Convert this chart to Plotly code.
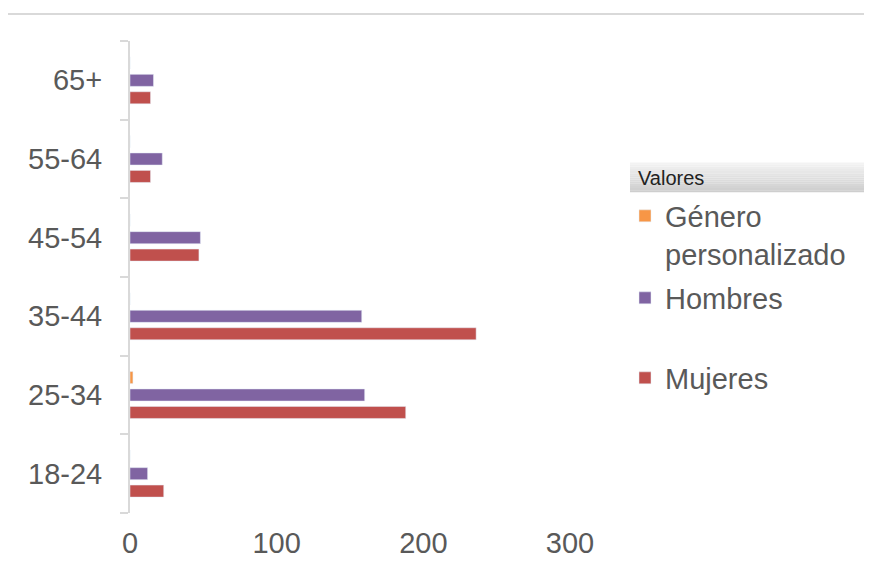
import plotly.graph_objects as go

categories = ["18-24", "25-34", "35-44", "45-54", "55-64", "65+"]
mujeres = [23, 188, 236, 47, 14, 14]
hombres = [12, 160, 158, 48, 22, 16]
genero = [0, 2, 0, 0, 0, 0]
x_ticks = [0, 100, 200, 300]

FONT = "Liberation Sans, Arial, sans-serif"
GREY = "#595959"
FS = 29

# page body adds an 8px offset; work in figure coordinates = reference - 8
OFF = 8
W, H = 872 - OFF, 571 - OFF
L, R, T, B = 130 - OFF, W - (570 - OFF), 41 - OFF, H - (515 - OFF)
pw, ph = W - L - R, H - T - B

def px_x(x):
    return (x - OFF - L) / pw

def px_y(y):
    return (H - B - (y - OFF)) / ph

def cx(x):
    return (x - OFF) / W

def cy(y):
    return (H - (y - OFF)) / H

fig = go.Figure()
fig.add_trace(go.Bar(y=categories, x=mujeres, orientation="h", name="Mujeres",
                     marker=dict(color="#C0504D"), legend="legend3", showlegend=True))
fig.add_trace(go.Bar(y=categories, x=hombres, orientation="h", name="Hombres",
                     marker=dict(color="#8064A2"), legend="legend2", showlegend=True))
fig.add_trace(go.Bar(y=categories, x=genero, orientation="h", name="Género<br>personalizado",
                     marker=dict(color="#F79646"), legend="legend", showlegend=True))

shapes = [
    dict(type="line", xref="paper", yref="paper", x0=px_x(5), x1=px_x(880),
         y0=px_y(14), y1=px_y(14), line=dict(color="#d9d9d9", width=2)),
]
n = 14
top, bot = 163, 193
for i in range(n):
    y0 = top + (bot - top) * i / n
    y1 = top + (bot - top) * (i + 1) / n
    c = int(243 - (243 - 206) * i / (n - 1))
    shapes.append(dict(type="rect", xref="paper", yref="paper", x0=px_x(630), x1=px_x(866),
                       y0=px_y(y1), y1=px_y(y0), line=dict(width=0),
                       fillcolor=f"rgb({c},{c},{c})", layer="below"))

LX = cx(640 - 15)
leg_common = dict(xref="container", yref="container", x=LX, xanchor="left",
                  bgcolor="rgba(0,0,0,0)", font=dict(size=FS, color=GREY, family=FONT),
                  visible=True)

fig.update_layout(
    width=W, height=H,
    showlegend=True,
    margin=dict(l=L, r=R, t=T, b=B),
    paper_bgcolor="white", plot_bgcolor="white",
    barmode="group", bargap=0.335, bargroupgap=0.31,
    font=dict(family=FONT, color=GREY, size=FS),
    xaxis=dict(range=[0, 300], tickvals=x_ticks, showgrid=False, zeroline=False,
               showline=False, ticks="", ticklabelstandoff=10,
               tickfont=dict(size=FS, color=GREY)),
    yaxis=dict(categoryorder="array", categoryarray=categories, showline=True,
               linecolor="#d9d9d9", linewidth=2, ticks="outside", tickson="boundaries",
               ticklen=8, tickcolor="#d9d9d9", tickwidth=2, showgrid=False,
               ticklabelstandoff=20, tickfont=dict(size=FS, color=GREY)),
    legend=dict(**leg_common, y=cy(235), yanchor="middle", valign="top"),
    legend2=dict(**leg_common, y=cy(298), yanchor="middle"),
    legend3=dict(**leg_common, y=cy(378), yanchor="middle"),
    shapes=shapes,
    annotations=[dict(text="Valores", xref="paper", yref="paper", x=px_x(636), y=px_y(179),
                      xanchor="left", yanchor="middle", showarrow=False,
                      font=dict(size=20, color="#222222", family=FONT))],
)

fig.write_html("out.html")
